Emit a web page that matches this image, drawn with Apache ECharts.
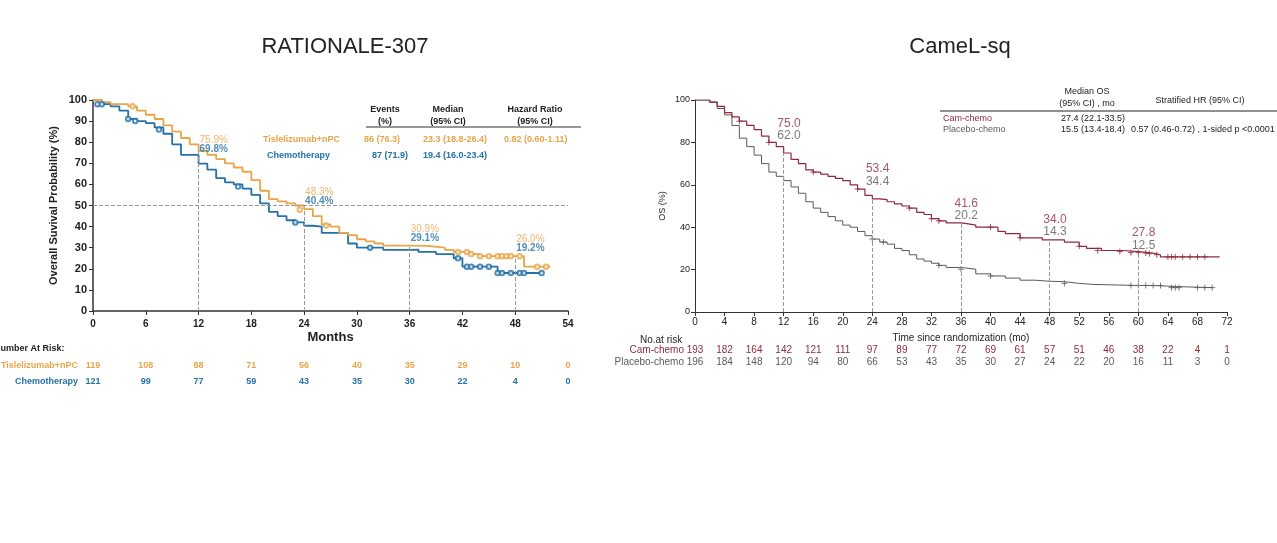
<!DOCTYPE html>
<html><head><meta charset="utf-8">
<script src="https://cdn.jsdelivr.net/npm/echarts@6/dist/echarts.min.js"></script>
<style>html,body{margin:0;background:#fff}#c{width:1277px;height:543px}</style>
</head><body><div id="c"></div>
<script>
// RATIONALE-307 (months, OS %)
const tisCurve = [[0,100],[1,99],[2,98],[4,97],[5,95],[6,93],[7,91],[8,88],[9,85],[10,82],[11,79],[12,75.9],[13,74],[14,72],[15,70],[16,68],[17,66],[18,62],[19,57],[20,53],[21,52],[22,51],[23,50],[24,48.3],[25,45],[26,41],[27,40],[28,37],[29,36],[30,34],[31,33],[32,32],[33,31],[36,30.9],[38,30],[40,29],[41,28],[43,27],[44,26],[48,26],[49,21],[52,21]]
const chemoCurve = [[0,100],[1,98],[2,97],[3,95],[4,91],[5,90],[6,89],[7,87],[8,84],[9,79],[10,74],[11,74],[12,69.8],[13,67],[14,63],[15,61],[16,60],[17,58],[18,55],[19,51],[20,47],[21,45],[22,43],[23,42],[24,40.4],[25,40],[26,37],[28,37],[29,32],[30,30],[32,30],[33,29],[36,29.1],[37,28],[39,27],[41,25],[42,21],[45,21],[46,18],[51,18]]
const tisCensor = [[4.5,97],[23.5,48],[26.5,40.5],[41.5,28],[42.5,28],[43,27],[44,26],[45,26],[46,26],[46.5,26],[47,26],[47.5,26],[48.5,26],[50.5,21],[51.5,21]]
const chemoCensor = [[0.5,98],[1,98],[4,91],[4.8,90],[7.5,86],[16.5,59],[23,42],[31.5,30],[41.5,25],[42.5,21],[43,21],[44,21],[45,21],[46,18],[46.5,18],[47.5,18],[48.5,18],[49,18],[51,18]]
const leftMarks = [[12,75.9,69.8],[24,48.3,40.4],[36,30.9,29.1],[48,26.0,19.2]]
const leftRiskTis = [119,108,88,71,56,40,35,29,10,0]
const leftRiskChemo = [121,99,77,59,43,35,30,22,4,0]
const leftRiskMonths = [0,6,12,18,24,30,36,42,48,54]

// CameL-sq
const camCurve = [[0,100],[1,100],[2,99],[3,97],[4,94],[5,92],[6,90],[7,88],[8,86],[9,83],[10,80],[11,78],[12,75],[13,72],[14,70],[15,67],[16,66],[17,65],[18,64],[19,63],[20,62],[21,60],[22,58],[23,55],[24,53.4],[25,53],[26,52],[27,51],[28,50],[29,49],[30,47],[31,46],[32,44],[33,43],[34,42],[36,41.6],[37,41],[38,40],[40,40],[41,38],[42,37],[44,35],[46,35],[47,34],[48,34],[50,33],[52,31],[53,30],[55,29],[58,28.5],[60,27.8],[62,27],[63,26],[71,26]]
const placeboCurve = [[0,100],[1,100],[2,99],[3,96],[4,93],[5,88],[6,82],[7,78],[8,74],[9,70],[10,66],[11,64],[12,62],[13,59],[14,56],[15,52],[16,49],[17,47],[18,45],[19,43],[20,41],[21,40],[22,38],[23,36],[24,34.4],[25,33],[26,32],[27,30],[28,29],[29,27],[30,25],[31,24],[32,23],[33,22],[34,21],[36,20.2],[38,18],[40,17],[42,16],[44,15],[46,14.5],[48,14.3],[50,13.5],[52,13],[54,12.5],[60,12.5],[62,12.2],[64,12],[65,11.5],[70,11.5]]
const camCensor = [[6,90],[10,80],[16,66],[22,58],[29,49],[32,44],[33,43],[40,40],[44,35],[52,31],[54.5,29],[57.5,28.5],[59,28],[60,28],[61,27.8],[61.5,27.5],[62.5,27],[64,26],[64.5,26],[65,26],[66,26],[67,26],[68,26],[69,26]]
const placeboCensor = [[24,34.4],[25.5,33],[33,22],[36,20.2],[40,17],[50,13.5],[59,12.5],[60,12.5],[61,12.5],[62,12.5],[63,12.5],[64.5,11.5],[65,11.5],[65.5,11.5],[68,11.5],[69,11.5],[70,11.5]]
const rightMarks = [[12,75.0,62.0],[24,53.4,34.4],[36,41.6,20.2],[48,34.0,14.3],[60,27.8,12.5]]
const rightRiskCam = [193,182,164,142,121,111,97,89,77,72,69,61,57,51,46,38,22,4,1]
const rightRiskPlacebo = [196,184,148,120,94,80,66,53,43,35,30,27,24,22,20,16,11,3,0]
const rightRiskMonths = [0,4,8,12,16,20,24,28,32,36,40,44,48,52,56,60,64,68,72]

const ORANGE = '#E8A54A', BLUE = '#2472A8', RED = '#8E2A3C', GRAY = '#5A5A5A'
const PLUS = 'path://M5,0L5,10M0,5L10,5'
const chart = echarts.init(document.getElementById('c'))

const axisTxt = { color: '#222', fontFamily: 'Liberation Sans' }
function stepSeries(data, color, xi, w) {
  return { type: 'line', step: 'end', data, xAxisIndex: xi, yAxisIndex: xi, symbol: 'none', lineStyle: { color, width: w }, z: 3 }
}
function censor(data, color, xi) {
  return { type: 'scatter', data, xAxisIndex: xi, yAxisIndex: xi, symbol: 'emptyCircle', symbolSize: 4.5, itemStyle: { color, borderColor: color, borderWidth: 1.2 }, z: 4 }
}
function ticks(data, color, xi) {
  return { type: 'scatter', data, xAxisIndex: xi, yAxisIndex: xi, symbol: PLUS, symbolSize: 6, itemStyle: { color: 'none', borderColor: color, borderWidth: 1 }, z: 4 }
}
function vlines(marks, xi) {
  return { type: 'line', data: [], xAxisIndex: xi, yAxisIndex: xi,
    markLine: { symbol: 'none', silent: true, label: { show: false },
      lineStyle: { color: '#999', type: 'dashed', width: 1 },
      data: marks.map(m => [{ coord: [m[0], 0] }, { coord: [m[0], m[1]] }]) } }
}
function labels(marks, idx, color, xi, size, fmt, ys, dx, bold) {
  return { type: 'scatter', xAxisIndex: xi, yAxisIndex: xi, symbolSize: 0,
    data: marks.map((m, i) => [m[0] + dx, ys[i]]),
    label: { show: true, position: 'right', offset: [-4, 0], color, fontSize: size, fontWeight: bold ? 'bold' : 'normal',
      fontFamily: 'Liberation Sans', formatter: p => fmt(marks[p.dataIndex][idx]) }, z: 5 }
}
const pct = v => v.toFixed(1) + '%'
const leftTop = leftMarks.map(m => Math.max(m[1], m[2]) + (m[0] === 12 ? 5 : 8))
const leftBot = leftTop.map(v => v - 4.2)
const rightTop = rightMarks.map(m => m[1] + (m[0] <= 24 ? 14 : 9.5))
const rightBot = rightTop.map(v => v - 5.8)

chart.setOption({
  animation: false,
  grid: [
    { left: 93, top: 100, width: 475, height: 211 },
    { left: 695, top: 100, width: 532, height: 212 }
  ],
  xAxis: [
    { gridIndex: 0, type: 'value', min: 0, max: 54, interval: 6, name: 'Months', nameLocation: 'middle', nameGap: 20,
      nameTextStyle: { fontWeight: 'bold', fontSize: 13, color: '#222' },
      axisLine: { lineStyle: { color: '#333', width: 1.5 } }, axisTick: { show: true, length: 4, lineStyle: { color: '#333' } },
      splitLine: { show: false }, axisLabel: { ...axisTxt, fontSize: 10, fontWeight: 'bold', margin: 8 } },
    { gridIndex: 1, type: 'value', min: 0, max: 72, interval: 4, name: 'Time since randomization (mo)', nameLocation: 'middle', nameGap: 21,
      nameTextStyle: { fontSize: 10, color: '#222' },
      axisLine: { lineStyle: { color: '#333' } }, axisTick: { show: true, length: 4, lineStyle: { color: '#333' } },
      splitLine: { show: false }, axisLabel: { ...axisTxt, fontSize: 10, margin: 5 } }
  ],
  yAxis: [
    { gridIndex: 0, type: 'value', min: 0, max: 100, interval: 10, name: 'Overall Suvival Probability (%)', nameLocation: 'middle', nameGap: 34,
      nameTextStyle: { fontWeight: 'bold', fontSize: 11, color: '#222' },
      axisLine: { show: true, lineStyle: { color: '#333', width: 1.5 } }, axisTick: { show: true, length: 4, lineStyle: { color: '#333' } },
      splitLine: { show: false }, axisLabel: { ...axisTxt, fontSize: 11, fontWeight: 'bold', margin: 6 } },
    { gridIndex: 1, type: 'value', min: 0, max: 100, interval: 20, name: 'OS (%)', nameLocation: 'middle', nameGap: 28,
      nameTextStyle: { fontSize: 9, color: '#222' },
      axisLine: { show: true, lineStyle: { color: '#333' } }, axisTick: { show: true, length: 4, lineStyle: { color: '#333' } },
      splitLine: { show: false }, axisLabel: { ...axisTxt, fontSize: 9, margin: 5 } }
  ],
  series: [
    vlines(leftMarks, 0),
    { type: 'line', data: [], xAxisIndex: 0, yAxisIndex: 0,
      markLine: { symbol: 'none', silent: true, label: { show: false }, lineStyle: { color: '#999', type: 'dashed', width: 1 }, data: [{ yAxis: 50 }] } },
    stepSeries(chemoCurve, BLUE, 0, 1.8),
    stepSeries(tisCurve, ORANGE, 0, 1.8),
    censor(chemoCensor, BLUE, 0),
    censor(tisCensor, ORANGE, 0),
    labels(leftMarks, 1, ORANGE, 0, 10, pct, leftTop, 0, false),
    labels(leftMarks, 2, BLUE, 0, 10, pct, leftBot, 0, true),
    vlines(rightMarks, 1),
    stepSeries(placeboCurve, GRAY, 1, 1),
    stepSeries(camCurve, RED, 1, 1.2),
    ticks(placeboCensor, GRAY, 1),
    ticks(camCensor, RED, 1),
    labels(rightMarks, 1, RED, 1, 12, v => v.toFixed(1), rightTop, -1, false),
    labels(rightMarks, 2, GRAY, 1, 12, v => v.toFixed(1), rightBot, -1, false)
  ]
})

// titles, tables and numbers at risk
const g = []
const t = (x, y, text, o = {}) => g.push({ type: 'text', x, y, style: { text, fill: o.c || '#222', fontSize: o.s || 10,
  fontWeight: o.b ? 'bold' : 'normal', fontFamily: 'Liberation Sans', textAlign: o.a || 'left', textVerticalAlign: 'middle', lineHeight: o.lh || 12 } })
t(345, 47, 'RATIONALE-307', { s: 22, a: 'center' })
t(960, 47, 'CameL-sq', { s: 22, a: 'center' })
// left table
t(385, 116, 'Events\n(%)', { s: 9, b: 1, a: 'center' })
t(448, 116, 'Median\n(95% CI)', { s: 9, b: 1, a: 'center' })
t(535, 116, 'Hazard Ratio\n(95% CI)', { s: 9, b: 1, a: 'center' })
g.push({ type: 'line', shape: { x1: 366, y1: 127, x2: 581, y2: 127 }, style: { stroke: '#333', lineWidth: 1.2 } })
t(263, 140, 'Tislelizumab+nPC', { s: 9, b: 1, c: ORANGE })
t(364, 140, '86 (76.3)', { s: 9, b: 1, c: ORANGE })
t(423, 140, '23.3 (18.8-26.4)', { s: 9, b: 1, c: ORANGE })
t(504, 140, '0.82 (0.60-1.11)', { s: 9, b: 1, c: ORANGE })
t(267, 156, 'Chemotherapy', { s: 9, b: 1, c: BLUE })
t(372, 156, '87 (71.9)', { s: 9, b: 1, c: BLUE })
t(423, 156, '19.4 (16.0-23.4)', { s: 9, b: 1, c: BLUE })
// right table
t(1087, 98, 'Median OS\n(95% CI) , mo', { s: 9, a: 'center' })
t(1200, 101, 'Stratified HR (95% CI)', { s: 9, a: 'center' })
g.push({ type: 'line', shape: { x1: 940, y1: 111, x2: 1277, y2: 111 }, style: { stroke: '#222', lineWidth: 1.2 } })
t(943, 119, 'Cam-chemo', { s: 9, c: RED })
t(943, 130, 'Placebo-chemo', { s: 9, c: GRAY })
t(1061, 119, '27.4 (22.1-33.5)', { s: 9 })
t(1061, 130, '15.5 (13.4-18.4)', { s: 9 })
t(1131, 130, '0.57 (0.46-0.72) , 1-sided p <0.0001', { s: 9 })
// at risk
t(-6, 349, 'Number At Risk:', { s: 9, b: 1 })
t(78, 366, 'Tislelizumab+nPC', { s: 9, b: 1, c: ORANGE, a: 'right' })
t(78, 382, 'Chemotherapy', { s: 9, b: 1, c: BLUE, a: 'right' })
leftRiskMonths.forEach((m, i) => {
  const x = chart.convertToPixel({ xAxisIndex: 0 }, m)
  t(x, 366, String(leftRiskTis[i]), { s: 9, b: 1, c: ORANGE, a: 'center' })
  t(x, 382, String(leftRiskChemo[i]), { s: 9, b: 1, c: BLUE, a: 'center' })
})
t(640, 340, 'No.at risk', { s: 10 })
t(684, 350, 'Cam-chemo', { s: 10, c: RED, a: 'right' })
t(684, 362, 'Placebo-chemo', { s: 10, c: GRAY, a: 'right' })
rightRiskMonths.forEach((m, i) => {
  const x = chart.convertToPixel({ xAxisIndex: 1 }, m)
  t(x, 350, String(rightRiskCam[i]), { s: 10, c: RED, a: 'center' })
  t(x, 362, String(rightRiskPlacebo[i]), { s: 10, c: GRAY, a: 'center' })
})
chart.setOption({ graphic: g })
</script></body></html>
